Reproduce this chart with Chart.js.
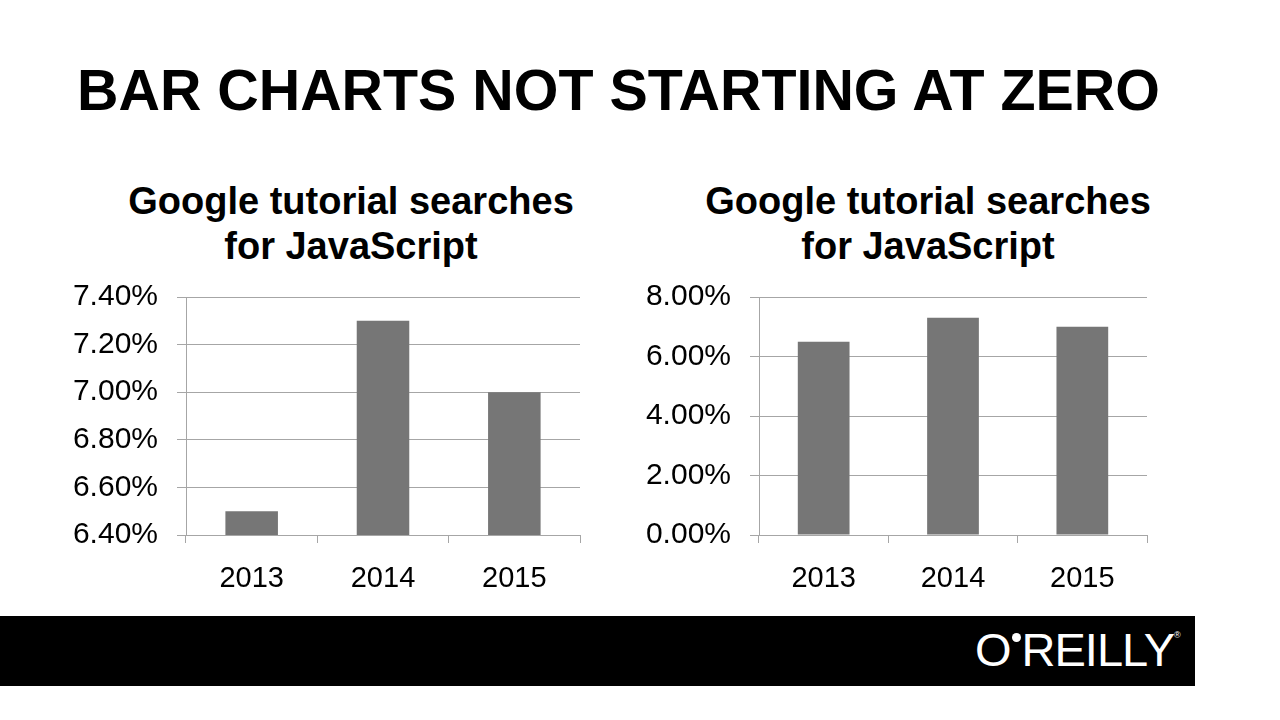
<!DOCTYPE html>
<html>
<head>
<meta charset="utf-8">
<script src="https://cdn.jsdelivr.net/npm/chart.js@4.4.1/dist/chart.umd.min.js"></script>
<style>
  body { margin: 0; width: 1280px; height: 720px; background: #fff; position: relative; overflow: hidden; font-family: "Liberation Sans", Arial, sans-serif; }
  .titulo { position: absolute; left: 77px; top: 57px; font-size: 57.4px; font-weight: bold; color: #000; white-space: nowrap; }
  .sub { position: absolute; top: 179px; width: 560px; text-align: center; font-size: 38px; font-weight: bold; line-height: 45px; color: #000; }
  .box { position: absolute; top: 260px; height: 345px; }
  .rodape { position: absolute; left: 0; top: 616px; width: 1195px; height: 70px; background: #000; }
  .logo { position: absolute; left: 975px; top: 625px; height: 50px; color: #fff; font-size: 47px; line-height: 50px; white-space: nowrap; letter-spacing: -1px; }
  .logo .ponto { position: relative; display: inline-block; width: 9px; height: 9px; border-radius: 50%; background: #fff; top: -24px; margin: 0 1px; }
  .logo .marca { position: relative; font-size: 9px; top: -28px; }
</style>
</head>
<body>
<div class="titulo">BAR CHARTS NOT STARTING AT ZERO</div>

<div class="sub" style="left:71px;">Google tutorial searches<br>for JavaScript</div>
<div class="sub" style="left:648px;">Google tutorial searches<br>for JavaScript</div>

<div class="box" style="left:60px; width:525px;"><canvas id="grafico-esquerda"></canvas></div>
<div class="box" style="left:640px; width:512px;"><canvas id="grafico-direita"></canvas></div>

<div class="rodape"></div>
<div class="logo">O<span class="ponto"></span>REILLY<span class="marca">&reg;</span></div>

<script>
const anos = ["2013", "2014", "2015"];
const buscasJS = [6.5, 7.3, 7.0];
const ticksEsquerda = [6.4, 6.6, 6.8, 7.0, 7.2, 7.4];
const ticksDireita = [0, 2, 4, 6, 8];

const corGrade = "#a6a6a6";
const corBarra = "#767676";

function montaGrafico(id, ticks, larguraY) {
    const el = document.getElementById(id);
    if (!el) return;
    new Chart(el, {
        type: "bar",
        data: {
            labels: anos,
            datasets: [{
                data: buscasJS,
                backgroundColor: corBarra,
                categoryPercentage: 1,
                barPercentage: 0.4
            }]
        },
        options: {
            responsive: true,
            maintainAspectRatio: false,
            animation: false,
            layout: { padding: { top: 7, right: 5, left: 0, bottom: 0 } },
            plugins: { legend: { display: false }, tooltip: { enabled: false } },
            scales: {
                x: {
                    grid: { display: true, drawOnChartArea: false, color: corGrade, tickLength: 8, lineWidth: 1 },
                    border: { color: corGrade },
                    ticks: { color: "#000", font: { family: "Liberation Sans", size: 29 }, padding: 19 },
                    afterFit: (s) => { s.height = 70; }
                },
                y: {
                    min: ticks[0],
                    max: ticks[ticks.length - 1],
                    afterBuildTicks: (s) => { s.ticks = ticks.map(v => ({ value: v })); },
                    grid: { color: corGrade, tickLength: 9, lineWidth: 1 },
                    border: { color: corGrade },
                    ticks: {
                        color: "#000",
                        font: { family: "Liberation Sans", size: 30 },
                        padding: 19,
                        callback: (v) => v.toFixed(2) + "%"
                    },
                    afterFit: (s) => { s.width = larguraY; }
                }
            }
        }
    });
}

montaGrafico("grafico-esquerda", ticksEsquerda, 126);
montaGrafico("grafico-direita", ticksDireita, 119);
</script>
</body>
</html>
